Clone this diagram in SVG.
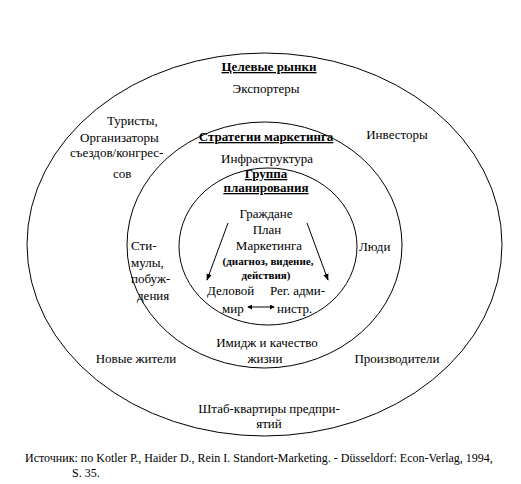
<svg xmlns="http://www.w3.org/2000/svg" width="521" height="484" viewBox="0 0 521 484">
<style>
text{font-family:Tinos,"Times New Roman","Liberation Serif","Noto Serif","DejaVu Serif",FreeSerif,serif;font-size:13px;fill:#000}
.c{text-anchor:middle}
.b{font-weight:bold;text-decoration:underline}
.s{font-size:11px;font-weight:bold}
.f{font-size:12px}
.ring{fill:none;stroke:#000;stroke-width:1}
.con{fill:none;stroke:#000;stroke-width:1}
</style>
<defs>
<marker id="ah" viewBox="0 0 8 8" refX="7" refY="4" markerWidth="7" markerHeight="7" orient="auto" markerUnits="userSpaceOnUse">
<path d="M0,1 L8,4 L0,7 Z" fill="#000"/>
</marker>
<marker id="sh" viewBox="0 0 6 6" refX="5" refY="3" markerWidth="5" markerHeight="5" orient="auto-start-reverse" markerUnits="userSpaceOnUse">
<path d="M0,0 L6,3 L0,6 Z" fill="#000"/>
</marker>
</defs>
<rect width="521" height="484" fill="#fff"/>
<g id="outer">
<ellipse class="ring" cx="264.5" cy="244.5" rx="237.5" ry="191.5"/>
<text class="c b" x="269" y="71">Целевые рынки</text>
<text class="c" x="266" y="93">Экспортеры</text>
<text x="107" y="125">Туристы,</text>
<text x="80" y="142">Организаторы</text>
<text x="70" y="157">съездов/конгрес-</text>
<text x="113" y="178">сов</text>
<text class="c" x="397" y="139">Инвесторы</text>
<text class="c" x="136" y="363">Новые жители</text>
<text class="c" x="397" y="363">Производители</text>
<text class="c" x="269" y="413">Штаб-квартиры предпри-</text>
<text class="c" x="269" y="428">ятий</text>
</g>
<g id="middle">
<ellipse class="ring" cx="264.5" cy="245" rx="137.5" ry="123"/>
<text class="c b" x="266" y="141">Стратегии маркетинга</text>
<text class="c" x="267" y="163">Инфраструктура</text>
<text x="131" y="250">Сти-</text>
<text x="131" y="267">мулы,</text>
<text x="131" y="283">побуж-</text>
<text x="137" y="300">дения</text>
<text x="359" y="251">Люди</text>
<text class="c" x="267" y="347">Имидж и качество</text>
<text class="c" x="265" y="363">жизни</text>
</g>
<g id="inner">
<ellipse class="ring" cx="268" cy="246.5" rx="89" ry="78.5"/>
<text class="c b" x="266" y="178">Группа</text>
<text class="c b" x="266" y="192">планирования</text>
<text class="c" x="266" y="218">Граждане</text>
<text class="c" x="267" y="234">План</text>
<text class="c" x="269" y="250">Маркетинга</text>
<text class="c s" x="268" y="265">(диагноз, видение,</text>
<text class="c s" x="266" y="279">действия)</text>
<text x="207" y="295">Деловой</text>
<text x="270" y="295">Рег. адми-</text>
<text x="222" y="313">мир</text>
<text x="277" y="313">нистр.</text>
</g>
<g id="connectors">
<line class="con" x1="228" y1="223" x2="207" y2="280" marker-end="url(#ah)"/>
<line class="con" x1="307" y1="223" x2="328" y2="280" marker-end="url(#ah)"/>
<line class="con" x1="248" y1="307" x2="274" y2="307" marker-start="url(#sh)" marker-end="url(#sh)"/>
</g>
<g id="source">
<text class="f" x="25" y="462">Источник: по Kotler P., Haider D., Rein I. Standort-Marketing. - Düsseldorf: Econ-Verlag, 1994,</text>
<text class="f" x="72" y="477">S. 35.</text>
</g>
</svg>
